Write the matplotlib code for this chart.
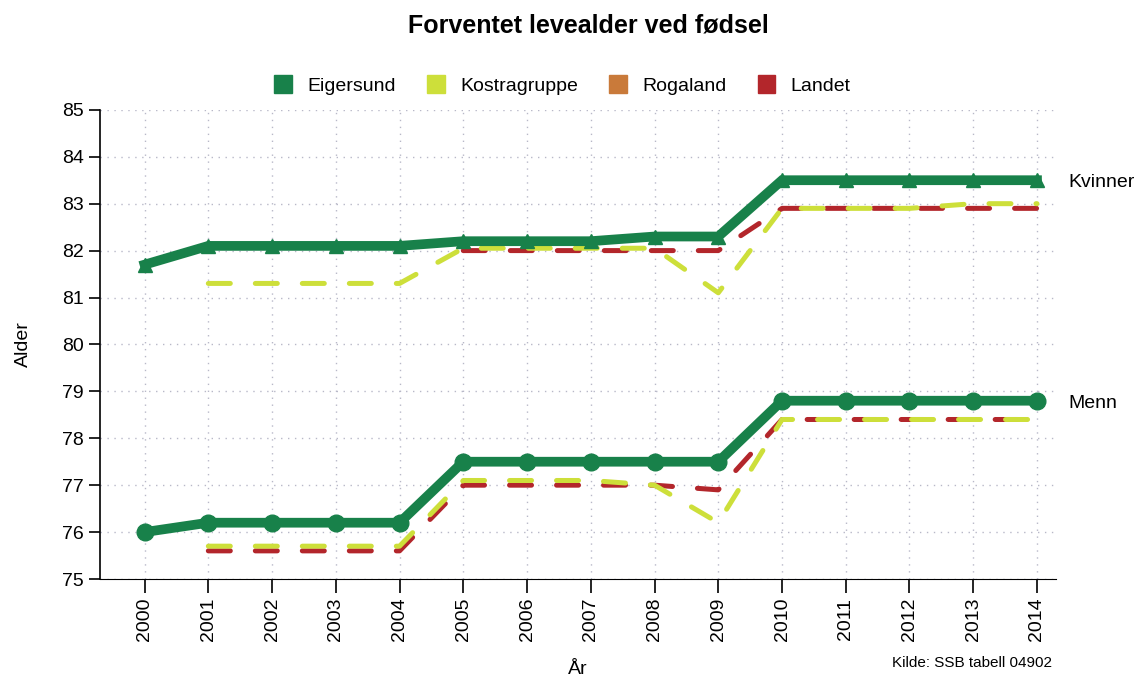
import numpy as np
import matplotlib
matplotlib.use("Agg")
import matplotlib.pyplot as plt
from matplotlib.patches import Patch

plt.rcParams["font.family"] = ["Liberation Sans", "DejaVu Sans"]

years = list(range(2000, 2015))
nan = np.nan

# Kvinner
eig_k = [81.7, 82.1, 82.1, 82.1, 82.1, 82.2, 82.2, 82.2, 82.3, 82.3, 83.5, 83.5, 83.5, 83.5, 83.5]
kos_k = [nan, 81.3, 81.3, 81.3, 81.3, 82.05, 82.05, 82.05, 82.05, 81.1, 82.9, 82.9, 82.9, 83.0, 83.0]
rog_k = [81.7, 82.1, 82.1, 82.1, 82.1, 82.2, 82.2, 82.2, 82.3, 82.3, 83.5, 83.5, 83.5, 83.5, 83.5]
lan_k = [nan, nan, nan, nan, nan, 82.0, 82.0, 82.0, 82.0, 82.0, 82.9, 82.9, 82.9, 82.9, 82.9]

# Menn
eig_m = [76.0, 76.2, 76.2, 76.2, 76.2, 77.5, 77.5, 77.5, 77.5, 77.5, 78.8, 78.8, 78.8, 78.8, 78.8]
kos_m = [nan, 75.7, 75.7, 75.7, 75.7, 77.1, 77.1, 77.1, 77.0, 76.2, 78.4, 78.4, 78.4, 78.4, 78.4]
rog_m = [76.0, 76.2, 76.2, 76.2, 76.2, 77.5, 77.5, 77.5, 77.5, 77.5, 78.8, 78.8, 78.8, 78.8, 78.8]
lan_m = [nan, 75.6, 75.6, 75.6, 75.6, 77.0, 77.0, 77.0, 77.0, 76.9, 78.4, 78.4, 78.4, 78.4, 78.4]

names = ["Eigersund", "Kostragruppe", "Rogaland", "Landet"]
c_eig = "#18814a"
c_kos = "#cddf3a"
c_rog = "#c97a3a"
c_lan = "#b3262b"

fig = plt.figure(figsize=(11.41, 6.78), dpi=100)
ax = fig.add_axes([0.0876, 0.146, 0.838, 0.692])

dash = (0, (4.4, 5.0))
for eig, kos, rog, lan, mk, ms in [(eig_k, kos_k, rog_k, lan_k, "^", 10), (eig_m, kos_m, rog_m, lan_m, "o", 12)]:
    ax.plot(years, rog, color=c_rog, lw=2, zorder=2)
    ax.plot(years, lan, color=c_lan, lw=3.6, ls=dash, dash_capstyle="round", zorder=3)
    ax.plot(years, kos, color=c_kos, lw=3.6, ls=dash, dash_capstyle="round", zorder=4)
    ax.plot(years, eig, color=c_eig, lw=7, marker=mk, markersize=ms, solid_joinstyle="miter", zorder=5)

ax.set_xlim(1999.3, 2014.3)
ax.set_ylim(75, 85)
ax.set_xticks(years)
ax.set_xticklabels([str(y) for y in years], rotation=90, fontsize=14)
ax.set_yticks(range(75, 86))
ax.tick_params(axis="y", labelsize=14, length=8, width=1.2)
ax.tick_params(axis="x", length=10, width=1.2)
ax.grid(True, color="#b8b8c8", ls=(0, (1, 4)), lw=1)
for s in ["top", "right"]:
    ax.spines[s].set_visible(False)
ax.spines["bottom"].set_linestyle((0, (3, 1)))
ax.spines["left"].set_linewidth(1.2)

ax.set_xlabel("År", fontsize=14, labelpad=14)
ax.set_ylabel("Alder", fontsize=14, labelpad=22)

ax.text(2014.5, 83.45, "Kvinner", fontsize=14, va="center", clip_on=False)
ax.text(2014.5, 78.75, "Menn", fontsize=14, va="center", clip_on=False)

fig.text(0.516, 0.962, "Forventet levealder ved fødsel", ha="center", va="center",
         fontsize=18, fontweight="bold")
fig.text(0.922, 0.012, "Kilde: SSB tabell 04902", ha="right", va="bottom", fontsize=11)

handles = [Patch(facecolor=c, edgecolor=c) for c in [c_eig, c_kos, c_rog, c_lan]]
fig.legend(handles, names, loc="center", bbox_to_anchor=(0.493, 0.875), ncol=4,
           frameon=False, fontsize=14, handlelength=0.9, handleheight=1.1,
           columnspacing=1.6, handletextpad=0.8)

fig.savefig("out.png", dpi=100)
